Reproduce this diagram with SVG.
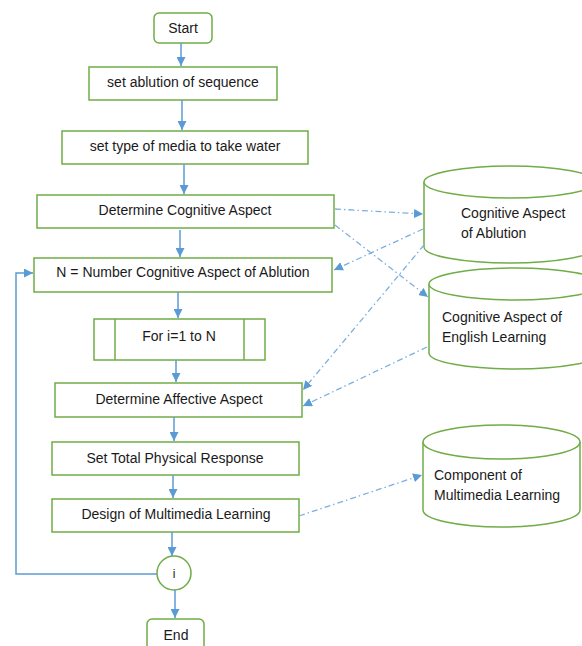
<svg xmlns="http://www.w3.org/2000/svg" width="582" height="646" viewBox="0 0 582 646">
<defs>
<style>
.box{fill:#fff;stroke:#70AD47;stroke-width:1.5}
.cyl{fill:#fff;stroke:#70AD47;stroke-width:1.5}
.t{font-family:"Liberation Sans",Arial,sans-serif;font-size:14px;fill:#1a1a1a;text-anchor:middle}
.tl{font-family:"Liberation Sans",Arial,sans-serif;font-size:14px;fill:#1a1a1a}
.flow{fill:none;stroke:#5B9BD5;stroke-width:1.5}
.dash{fill:none;stroke:#7DB0E0;stroke-width:1.3;stroke-dasharray:6 3 1.5 3}
</style>
<marker id="ah" viewBox="0 0 10 10" refX="10" refY="5" markerWidth="9" markerHeight="9" markerUnits="userSpaceOnUse" orient="auto">
<path d="M0,0 L10,5 L0,10 z" fill="#5B9BD5"/>
</marker>
</defs>
<rect width="582" height="646" fill="#fff"/>

<g id="start"><rect class="box" x="154" y="13" width="58" height="30" rx="5"/><text class="t" x="183" y="33">Start</text></g>
<g id="n1"><rect class="box" x="89" y="67" width="188" height="33"/><text class="t" x="183" y="87">set ablution of sequence</text></g>
<g id="n2"><rect class="box" x="62" y="131" width="246" height="33"/><text class="t" x="185" y="151">set type of media to take water</text></g>
<g id="n3"><rect class="box" x="37" y="195" width="297" height="33"/><text class="t" x="185" y="215">Determine Cognitive Aspect</text></g>
<g id="n4"><rect class="box" x="34" y="258" width="298" height="34"/><text class="t" x="183" y="277">N = Number Cognitive Aspect of Ablution</text></g>
<g id="n5"><rect class="box" x="94" y="319" width="171" height="41"/><line class="box" x1="115" y1="319" x2="115" y2="360"/><line class="box" x1="244" y1="319" x2="244" y2="360"/><text class="t" x="179" y="341">For i=1 to N</text></g>
<g id="n6"><rect class="box" x="55" y="383" width="247" height="34"/><text class="t" x="179" y="404">Determine Affective Aspect</text></g>
<g id="n7"><rect class="box" x="52" y="442" width="247" height="33"/><text class="t" x="175" y="463">Set Total Physical Response</text></g>
<g id="n8"><rect class="box" x="52" y="499" width="247" height="33"/><text class="t" x="176" y="519">Design of Multimedia Learning</text></g>
<g id="n9"><circle class="box" cx="174" cy="573" r="17"/><text class="t" x="174" y="578" style="font-size:12px">i</text></g>
<g id="end"><rect class="box" x="147" y="619" width="57" height="40" rx="5"/><text class="t" x="176" y="640">End</text></g>

<g id="db1"><path class="cyl" d="M424,182 A86,16 0 0 1 596,182 L596,247 A86,16 0 0 1 424,247 Z"/><path class="cyl" d="M424,182 A86,16 0 0 0 596,182"/><text class="tl" x="461" y="218">Cognitive Aspect</text><text class="tl" x="461" y="238">of Ablution</text></g>
<g id="db2"><path class="cyl" d="M429,284 A86,16 0 0 1 601,284 L601,353 A86,16 0 0 1 429,353 Z"/><path class="cyl" d="M429,284 A86,16 0 0 0 601,284"/><text class="tl" x="442" y="322">Cognitive Aspect of</text><text class="tl" x="442" y="342">English Learning</text></g>
<g id="db3"><path class="cyl" d="M423,442 A78.5,17 0 0 1 580,442 L580,510 A78.5,17 0 0 1 423,510 Z"/><path class="cyl" d="M423,442 A78.5,17 0 0 0 580,442"/><text class="tl" x="434" y="480">Component of</text><text class="tl" x="434" y="500">Multimedia Learning</text></g>

<g id="connectors">
<line class="flow" x1="181" y1="43" x2="181" y2="66" marker-end="url(#ah)"/>
<line class="flow" x1="182" y1="100" x2="182" y2="130" marker-end="url(#ah)"/>
<line class="flow" x1="184" y1="164" x2="184" y2="194" marker-end="url(#ah)"/>
<line class="flow" x1="180" y1="230" x2="180" y2="257" marker-end="url(#ah)"/>
<line class="flow" x1="178" y1="292" x2="178" y2="318" marker-end="url(#ah)"/>
<line class="flow" x1="176" y1="360" x2="176" y2="382" marker-end="url(#ah)"/>
<line class="flow" x1="174" y1="417" x2="174" y2="441" marker-end="url(#ah)"/>
<line class="flow" x1="173" y1="475" x2="173" y2="498" marker-end="url(#ah)"/>
<line class="flow" x1="172" y1="532" x2="172" y2="556" marker-end="url(#ah)"/>
<line class="flow" x1="175" y1="590" x2="175" y2="618" marker-end="url(#ah)"/>
<polyline class="flow" points="157,574 16,574 16,273 33,273" marker-end="url(#ah)"/>
<line class="dash" x1="335" y1="209" x2="423" y2="214" marker-end="url(#ah)"/>
<line class="dash" x1="335" y1="225" x2="428" y2="297" marker-end="url(#ah)"/>
<line class="dash" x1="423" y1="229" x2="334" y2="270" marker-end="url(#ah)"/>
<line class="dash" x1="424" y1="245" x2="303" y2="390" marker-end="url(#ah)"/>
<line class="dash" x1="427" y1="347" x2="303" y2="406" marker-end="url(#ah)"/>
<line class="dash" x1="299" y1="516" x2="422" y2="475" marker-end="url(#ah)"/>
</g>
</svg>
